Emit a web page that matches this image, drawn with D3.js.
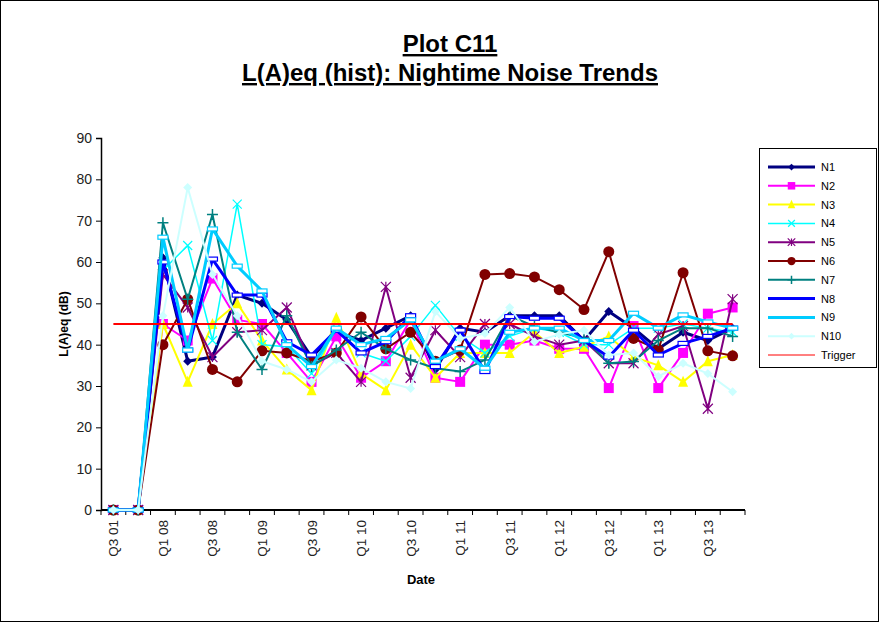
<!DOCTYPE html>
<html>
<head>
<meta charset="utf-8">
<script src="https://cdn.jsdelivr.net/npm/d3@7"></script>
<style>
  body { margin: 0; background: #fff; }
  svg { font-family: Arial, "Liberation Sans", sans-serif; }
</style>
</head>
<body>
<svg width="881" height="625"></svg>
<script>
// categories (quarters), label shown on every second one
const categories = ['Q3 01','Q4 07','Q1 08','Q2 08','Q3 08','Q4 08','Q1 09','Q2 09','Q3 09','Q4 09',
  'Q1 10','Q2 10','Q3 10','Q4 10','Q1 11','Q2 11','Q3 11','Q4 11','Q1 12','Q2 12','Q3 12','Q4 12',
  'Q1 13','Q2 13','Q3 13','Q4 13'];

const n1  = [0,0,61,36,37,52,50,46,37,43,41,44,47,34,44,43,47,47,47,41,48,44,39,43,41,44];
const n2  = [0,0,45,41,56,46,45,38,31,42,32,36,46,32,31,40,40,41,39,39,29.5,44.5,29.5,38,47.5,49];
const n3  = [0,0,45,31,45,50,41,34,29,46.5,33,29,40,32,38,38,38,43,38,39.5,42,37,35,31,36,37.5];
const n4  = [0,0,58,64,41,74,40,39.5,33,44,38,36,42,49.5,42,38,42,44,43,40,40,44,44,45,44,43];
const n5  = [0,0,57,49,37,43,43.5,49,35,38,31,54,32,43.5,37,45,45,42,40,41,35.5,35.5,42.5,44.5,24.5,51];
const n6  = [0,0,40,51,34,31,38.5,38,36,38,46.7,39,43,36,38.7,57,57.2,56.4,53.3,48.5,62.5,41.5,38.8,57.4,38.5,37.3];
const n7  = [0,0,69.5,51,71.5,43,34,47,34.7,38.7,43,39,36.3,34.3,33.5,36.3,47,44.4,43,41.6,35.5,35.9,41,44,44,42];
const n8  = [0,0,60,38.7,60.7,52,52,40.7,37.5,43.5,38,40.7,47,34.7,43.5,33.5,46.8,46.4,46.4,41,37,43.5,37.5,40.3,42,44];
const n9  = [0,0,66,38.7,68,59,53,40,34.7,44,40,41.5,46,36,39,34.3,43,44,44,41,41,47.6,44,47.2,45.5,44];
const n10 = [0,0,47,78,57,47,36,34,31,36.3,34.3,31,29.4,48,41.5,42.7,49,40.7,42.5,43.5,37.5,38,32.3,35.5,33,28.6];
const trigger = categories.map(() => 45);

const seriesNames  = ['N1','N2','N3','N4','N5','N6','N7','N8','N9','N10','Trigger'];
const seriesValues = [n1,n2,n3,n4,n5,n6,n7,n8,n9,n10,trigger];
const seriesColors = ['#000080','#ff00ff','#ffff00','#00ffff','#800080','#800000','#008080','#0000ff','#00ccff','#ccffff','#ff0000'];
const seriesWidths = [3,2,2,1.5,2,2,2,3,3,2,2];
const seriesMarks  = ['diamond','square','triangle','x','star','circle','plus','dash','dash','diamond','none'];

const yTicks = [0,10,20,30,40,50,60,70,80,90];

const svg = d3.select('svg');

// outer frame
svg.append('rect').attr('x', 0.5).attr('y', 0.5).attr('width', 878).attr('height', 621)
  .attr('fill', 'none').attr('stroke', '#000').attr('stroke-width', 1);

// titles
const titles = ['Plot C11', 'L(A)eq (hist): Nightime Noise Trends'];
titles.forEach((t, i) => {
  svg.append('text').attr('x', 450).attr('y', 52 + i * 29)
    .attr('text-anchor', 'middle').attr('font-size', 24).attr('font-weight', 'bold')
    .attr('text-decoration', 'underline').text(t);
});

const x = d3.scaleBand().domain(categories).range([101, 745]);
const y = d3.scaleLinear().domain([0, 90]).range([510, 138]);
const cx = c => x(c) + x.bandwidth() / 2;

// y axis
const yAxis = svg.append('g').attr('transform', 'translate(101,0)')
  .call(d3.axisLeft(y).tickValues(yTicks).tickSize(5).tickPadding(4));
yAxis.select('.domain').attr('stroke', '#000').attr('stroke-width', 1.5);
yAxis.selectAll('text').attr('font-size', 14).attr('font-family', 'Arial, "Liberation Sans", sans-serif').attr('fill', '#222');

svg.append('text').attr('transform', 'translate(68,324) rotate(-90)')
  .attr('text-anchor', 'middle').attr('font-size', 12).attr('font-weight', 'bold').text('L(A)eq (dB)');

// x axis: line, boundary ticks, every second label
const xg = svg.append('g');
xg.append('line').attr('x1', 101).attr('x2', 745).attr('y1', 510).attr('y2', 510)
  .attr('stroke', '#000').attr('stroke-width', 2);
xg.selectAll('.xt').data(categories.concat(['end'])).enter().append('line')
  .attr('x1', (d, i) => 101 + i * x.bandwidth()).attr('x2', (d, i) => 101 + i * x.bandwidth())
  .attr('y1', 510).attr('y2', 515).attr('stroke', '#000').attr('stroke-width', 1);
xg.selectAll('.xl').data(categories.filter((d, i) => i % 2 === 0)).enter().append('text')
  .attr('transform', d => `translate(${cx(d) + 5},520) rotate(-90)`)
  .attr('text-anchor', 'end').attr('font-size', 13.5).attr('fill', '#222').text(d => d);

svg.append('text').attr('x', 421).attr('y', 584).attr('text-anchor', 'middle')
  .attr('font-size', 13).attr('font-weight', 'bold').text('Date');

// marker drawing
function drawMarker(g, type, color, px, py, s) {
  if (type === 'none') return;
  if (type === 'diamond') {
    g.append('path').attr('d', `M${px},${py - s}L${px + s},${py}L${px},${py + s}L${px - s},${py}Z`).attr('fill', color);
  } else if (type === 'square') {
    g.append('rect').attr('x', px - s).attr('y', py - s).attr('width', 2 * s).attr('height', 2 * s).attr('fill', color);
  } else if (type === 'triangle') {
    g.append('path').attr('d', `M${px},${py - s - 1}L${px + s},${py + s}L${px - s},${py + s}Z`).attr('fill', color);
  } else if (type === 'x') {
    g.append('path').attr('d', `M${px - s},${py - s}L${px + s},${py + s}M${px - s},${py + s}L${px + s},${py - s}`)
      .attr('stroke', color).attr('stroke-width', 1.2);
  } else if (type === 'star') {
    g.append('path').attr('d', `M${px - s},${py - s}L${px + s},${py + s}M${px - s},${py + s}L${px + s},${py - s}M${px},${py - s}L${px},${py + s}`)
      .attr('stroke', color).attr('stroke-width', 1.2);
  } else if (type === 'circle') {
    g.append('circle').attr('cx', px).attr('cy', py).attr('r', s).attr('fill', color);
  } else if (type === 'plus') {
    g.append('path').attr('d', `M${px - s},${py}L${px + s},${py}M${px},${py - s}L${px},${py + s}`)
      .attr('stroke', color).attr('stroke-width', 1.5);
  } else if (type === 'dash') {
    g.append('rect').attr('x', px - s).attr('y', py - 2).attr('width', 2 * s).attr('height', 4)
      .attr('fill', '#fff').attr('stroke', color).attr('stroke-width', 1.2);
  }
}
const markSize = {diamond: 4.5, square: 5, triangle: 5, x: 4.5, star: 5, circle: 5.5, plus: 5.5, dash: 5, none: 0};

// series
const line = d3.line().x((d, i) => cx(categories[i])).y(d => y(d));
seriesValues.forEach((vals, k) => {
  const g = svg.append('g');
  g.append('path').datum(vals).attr('d', line).attr('fill', 'none')
    .attr('stroke', seriesColors[k]).attr('stroke-width', seriesWidths[k]).attr('stroke-linejoin', 'round');
  vals.forEach((v, i) => drawMarker(g, seriesMarks[k], seriesColors[k], cx(categories[i]), y(v), markSize[seriesMarks[k]]));
});

// legend
const lg = svg.append('g');
lg.append('rect').attr('x', 759.5).attr('y', 148.5).attr('width', 117).attr('height', 219)
  .attr('fill', '#fff').attr('stroke', '#000');
seriesNames.forEach((name, k) => {
  const ly = 167 + k * 18.8;
  lg.append('line').attr('x1', 768).attr('x2', 815).attr('y1', ly).attr('y2', ly)
    .attr('stroke', seriesColors[k]).attr('stroke-width', k === 10 ? 1 : seriesWidths[k]);
  if (seriesMarks[k] !== 'dash') drawMarker(lg, seriesMarks[k], seriesColors[k], 791.5, ly, markSize[seriesMarks[k]] * 0.75);
  lg.append('text').attr('x', 821).attr('y', ly + 4).attr('font-size', 11).text(name);
});
</script>
</body>
</html>
